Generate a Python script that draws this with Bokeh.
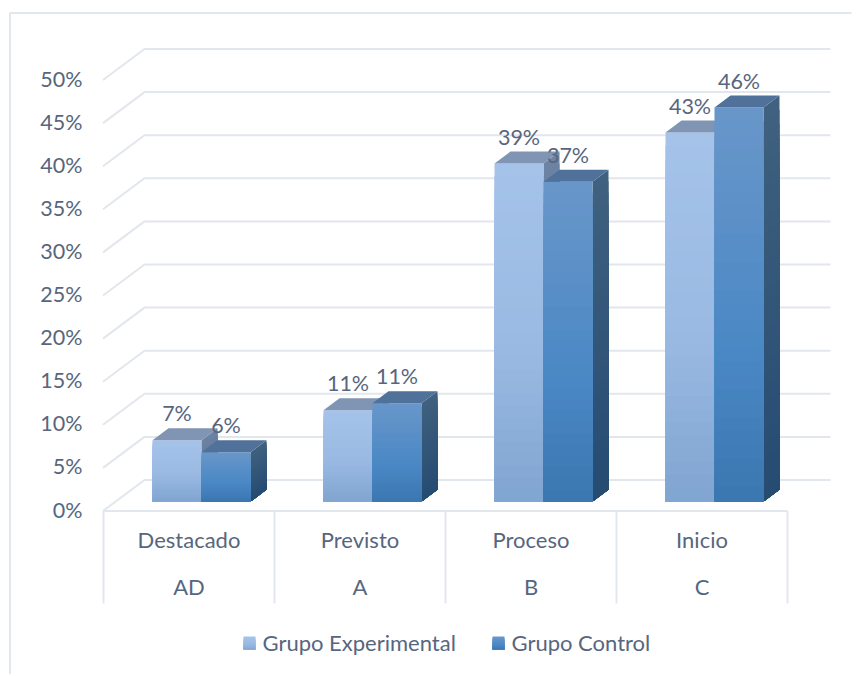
from bokeh.plotting import figure
from bokeh.embed import file_html
from bokeh.resources import INLINE
from bokeh.core.properties import value
from bokeh.models import Range1d

# ---- data ----
categories = ["Destacado", "Previsto", "Proceso", "Inicio"]
levels = ["AD", "A", "B", "C"]
series_names = ["Grupo Experimental", "Grupo Control"]
experimental = [7.1, 10.6, 39.2, 42.8]
control = [5.7, 11.4, 37.1, 45.7]
experimental_labels = ["7%", "11%", "39%", "43%"]
control_labels = ["6%", "11%", "37%", "46%"]
y_ticks = [0, 5, 10, 15, 20, 25, 30, 35, 40, 45, 50]
y_tick_labels = ["0%", "5%", "10%", "15%", "20%", "25%", "30%", "35%", "40%", "45%", "50%"]

# ---- scales: one category = 171 px, one percent = 8.62 px ----
W, H = 860, 674
CAT, PCT = 171.0, 8.62
X0, Y0 = 103.0, 501.0            # page pixel of category 0 / value 0 on the bars' front plane
def X(px): return (px - X0) / CAT
def Y(py): return (Y0 - py) / PCT

p = figure(width=W, height=H, output_backend="svg", toolbar_location=None,
           x_range=Range1d(X(0), X(W)), y_range=Range1d(Y(H), Y(0)),
           min_border=0, min_border_left=0, min_border_right=0, min_border_top=0, min_border_bottom=0,
           x_axis_type="linear", y_axis_type="linear")
p.axis.visible = False
p.grid.visible = False
p.outline_line_color = None
p.background_fill_color = "white"
p.border_fill_color = "white"

GRID = "#e2e6ed"
TEXT = "#57667e"
FONT = value("Lato")

# outer frame of the chart area
p.line([X(9.5), X(9.5)], [Y(674), Y(12)], line_color=GRID, line_width=2)
p.line([X(9.5), X(851)], [Y(12.5), Y(12.5)], line_color=GRID, line_width=2)

# walls: 3D gridlines
front_x, back_x, right_x = X(102.5), X(144), X(830)
front_off, back_off = Y(510.5), Y(479.5)
for t in y_ticks:
    p.line([front_x, back_x, right_x], [t + front_off, t + back_off, t + back_off],
           line_color=GRID, line_width=2)

# category table below the floor
n = len(categories)
p.line([0, n], [front_off, front_off], line_color=GRID, line_width=2)
for i in range(n + 1):
    p.line([i, i], [front_off, Y(603)], line_color=GRID, line_width=2)

def lerp_hex(stops, t):
    for (a, ca), (b, cb) in zip(stops, stops[1:]):
        if t <= b:
            f = (t - a) / (b - a)
            c = [int(ca[k:k + 2], 16) * (1 - f) + int(cb[k:k + 2], 16) * f for k in (1, 3, 5)]
            return "#%02x%02x%02x" % tuple(round(v) for v in c)
    return stops[-1][1]

STYLE = [
    dict(front=[(0, "#a5c3e9"), (0.55, "#99b9e2"), (1, "#7fa4cf")],
         side=[(0, "#6c83a3"), (1, "#4d6a8e")], top="#7f95b3"),
    dict(front=[(0, "#6896c9"), (0.6, "#4a88c5"), (1, "#3a76af")],
         side=[(0, "#40617f"), (1, "#254b72")], top="#507199"),
]
BAR, DX, DY, STRIPS = 49 / CAT, 16 / CAT, 12 / PCT, 28
BAR_START = 49 / CAT

def draw_bar(x, v, st):
    xs, ys, cols = [], [], []
    # front and side faces: painted tallest first so the strips overlap without seams
    for k in range(STRIPS):
        t = k / STRIPS
        yi = v * (1 - t)
        xs.append([x + BAR, x + BAR + DX, x + BAR + DX, x + BAR])
        ys.append([0, DY, yi + DY, yi])
        cols.append(lerp_hex(st["side"], t))
    for k in range(STRIPS):
        t = k / STRIPS
        yi = v * (1 - t)
        xs.append([x, x + BAR, x + BAR, x])
        ys.append([0, 0, yi, yi])
        cols.append(lerp_hex(st["front"], t))
    xs.append([x, x + BAR, x + BAR + DX, x + DX])
    ys.append([v, v, v + DY, v + DY])
    cols.append(st["top"])
    p.patches(xs, ys, fill_color=cols, line_color=None)

for i in range(n):
    draw_bar(i + BAR_START, experimental[i], STYLE[0])
    draw_bar(i + BAR_START + BAR, control[i], STYLE[1])

# y tick labels
p.text([X(82)] * len(y_ticks), [t + Y(509) for t in y_ticks], text=y_tick_labels,
       text_font=FONT, text_font_size="21.5px", text_color=TEXT,
       text_align="right", text_baseline="middle")

# data labels
LAB = 27 / PCT
lab_x, lab_y, lab_t = [], [], []
for i in range(n):
    lab_x += [i + BAR_START + BAR / 2, i + BAR_START + 1.5 * BAR]
    lab_y += [experimental[i] + LAB, control[i] + LAB]
    lab_t += [experimental_labels[i], control_labels[i]]
p.text(lab_x, lab_y, text=lab_t, text_font=FONT, text_font_size="21.5px", text_color=TEXT,
       text_align="center", text_baseline="middle")

# category labels
mid = [i + 0.5 for i in range(n)]
p.text(mid, [Y(539)] * n, text=categories, text_font=FONT, text_font_size="22px",
       text_color=TEXT, text_align="center", text_baseline="middle")
p.text(mid, [Y(586)] * n, text=levels, text_font=FONT, text_font_size="22px",
       text_color=TEXT, text_align="center", text_baseline="middle")

# legend
legend_swatch = [243, 492]
legend_text = [262, 511]
for sx, tx, name, st in zip(legend_swatch, legend_text, series_names, STYLE):
    xs, ys, cols = [], [], []
    for k in range(8):
        t = k / 8
        xs.append([X(sx), X(sx + 12), X(sx + 12), X(sx)])
        ys.append([Y(649), Y(649), Y(649 - 13 * (1 - t)), Y(649 - 13 * (1 - t))])
        cols.append(lerp_hex(st["front"], t))
    p.patches(xs, ys, fill_color=cols, line_color=None)
    p.text([X(tx)], [Y(641.5)], text=[name], text_font=FONT, text_font_size="22px",
           text_color=TEXT, text_align="left", text_baseline="middle")

open("out.html", "w").write(file_html(p, INLINE))
